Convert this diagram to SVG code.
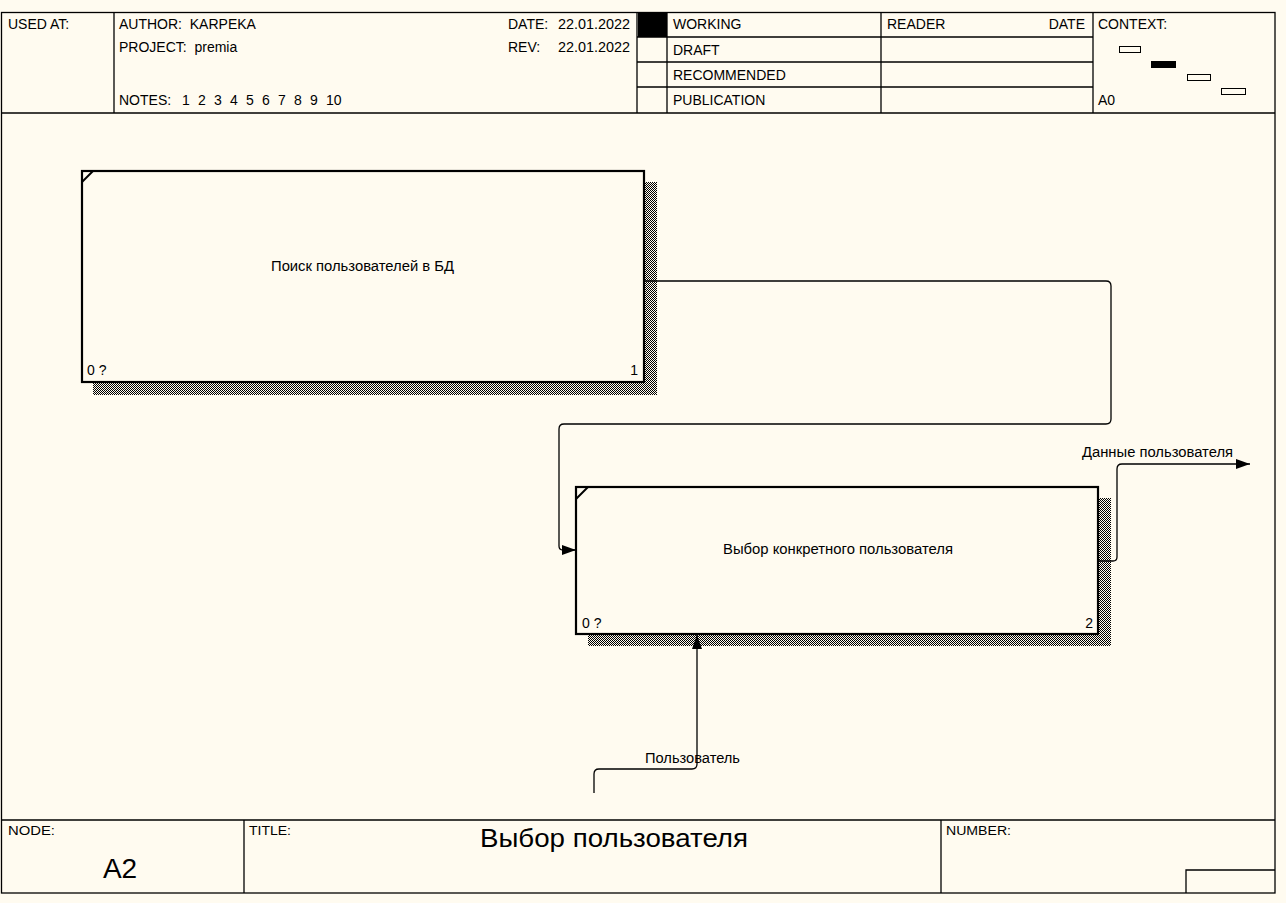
<svg xmlns="http://www.w3.org/2000/svg" width="1286" height="903" viewBox="0 0 1286 903">
<style>
text{font-family:"Liberation Sans",Arial,sans-serif;fill:#000}
.h{font-size:14px;white-space:pre}
.s{font-size:14px}
.f{font-size:12px}
.frame{fill:none;stroke:#000;stroke-width:1.3}
.box{fill:#FFFBF0;stroke:#000;stroke-width:2.2}
.corner{stroke:#000;stroke-width:2}
.shadow{fill:url(#dots)}
.conn{fill:none;stroke:#000;stroke-width:1.3}
</style>
<defs>
<pattern id="dots" patternUnits="userSpaceOnUse" width="2" height="2">
<rect x="0" y="0" width="1" height="1" fill="#000"/>
<rect x="1" y="1" width="1" height="1" fill="#000"/>
</pattern>
<marker id="arr" markerWidth="14" markerHeight="10" refX="14" refY="5" orient="auto" markerUnits="userSpaceOnUse">
<path d="M0,0 L14,5 L0,10 Z" fill="#000"/>
</marker>
</defs>
<rect width="1286" height="903" fill="#FFFBF0"/>
<g id="frame">
<rect class="frame" x="1.5" y="12.5" width="1273.5" height="880.5"/>
<line class="frame" x1="1" y1="113" x2="1275" y2="113"/>
<line class="frame" x1="114" y1="12" x2="114" y2="113"/>
<line class="frame" x1="637" y1="12" x2="637" y2="113"/>
<line class="frame" x1="667" y1="12" x2="667" y2="113"/>
<line class="frame" x1="881" y1="12" x2="881" y2="113"/>
<line class="frame" x1="1093" y1="12" x2="1093" y2="113"/>
<line class="frame" x1="637" y1="37" x2="1093" y2="37"/>
<line class="frame" x1="637" y1="62" x2="1093" y2="62"/>
<line class="frame" x1="637" y1="87" x2="1093" y2="87"/>
<rect x="638" y="12" width="29" height="25" fill="#000"/>
<text class="h" x="8" y="29">USED AT:</text>
<text class="h" x="119" y="29">AUTHOR:  KARPEKA</text>
<text class="h" x="119" y="52">PROJECT:  premia</text>
<text class="h" x="508" y="29">DATE:</text>
<text class="h" x="558" y="29" textLength="72" lengthAdjust="spacingAndGlyphs">22.01.2022</text>
<text class="h" x="508" y="52">REV:</text>
<text class="h" x="558" y="52" textLength="72" lengthAdjust="spacingAndGlyphs">22.01.2022</text>
<text class="h" x="119" y="105">NOTES:<tspan x="182">1</tspan><tspan x="198">2</tspan><tspan x="214">3</tspan><tspan x="230">4</tspan><tspan x="246">5</tspan><tspan x="262">6</tspan><tspan x="278">7</tspan><tspan x="294">8</tspan><tspan x="310">9</tspan><tspan x="326">10</tspan></text>
<text class="h" x="673" y="29">WORKING</text>
<text class="h" x="673" y="55">DRAFT</text>
<text class="h" x="673" y="80">RECOMMENDED</text>
<text class="h" x="673" y="105">PUBLICATION</text>
<text class="h" x="887" y="29">READER</text>
<text class="h" x="1085" y="29" text-anchor="end">DATE</text>
<text class="h" x="1098" y="29">CONTEXT:</text>
<text class="h" x="1098" y="105">A0</text>
<rect x="1119.5" y="46.5" width="21" height="6" fill="none" stroke="#000" stroke-width="1"/>
<rect x="1151" y="61" width="25" height="7" fill="#000"/>
<rect x="1187.5" y="74.5" width="23" height="6" fill="none" stroke="#000" stroke-width="1"/>
<rect x="1221.5" y="88.5" width="24" height="6" fill="none" stroke="#000" stroke-width="1"/>
<line class="frame" x1="1" y1="820" x2="1275" y2="820"/>
<line class="frame" x1="244" y1="820" x2="244" y2="893"/>
<line class="frame" x1="941" y1="820" x2="941" y2="893"/>
<polyline class="frame" points="1186,893 1186,870 1275,870"/>
<text class="f" x="8" y="835" textLength="47" lengthAdjust="spacingAndGlyphs">NODE:</text>
<text class="f" x="249" y="835" textLength="42" lengthAdjust="spacingAndGlyphs">TITLE:</text>
<text class="f" x="946" y="835" textLength="65" lengthAdjust="spacingAndGlyphs">NUMBER:</text>
<text x="614" y="847" font-size="25" text-anchor="middle" textLength="268" lengthAdjust="spacingAndGlyphs">Выбор пользователя</text>
<text x="120" y="878" font-size="28" text-anchor="middle">A2</text>
</g>
<g id="node1">
<rect class="shadow" x="645" y="182" width="12" height="213"/>
<rect class="shadow" x="93" y="383" width="564" height="12"/>
<rect class="box" x="82" y="171" width="562" height="211"/>
<line class="corner" x1="82" y1="182" x2="93" y2="171"/>
<text class="s" x="271" y="271" textLength="183" lengthAdjust="spacingAndGlyphs">Поиск пользователей в БД</text>
<text class="s" x="87" y="375">0 ?</text>
<text class="s" x="638" y="375" text-anchor="end">1</text>
</g>
<g id="node2">
<rect class="shadow" x="1099" y="498" width="12" height="148"/>
<rect class="shadow" x="588" y="635" width="523" height="11"/>
<rect class="box" x="576" y="487" width="522" height="147"/>
<line class="corner" x1="576" y1="499" x2="588" y2="487"/>
<text class="s" x="723" y="554" textLength="230" lengthAdjust="spacingAndGlyphs">Выбор конкретного пользователя</text>
<text class="s" x="582" y="628">0 ?</text>
<text class="s" x="1093" y="628" text-anchor="end">2</text>
</g>
<g id="connectors">
<path class="conn" d="M645,281 H1106 Q1111,281 1111,286 V419 Q1111,424 1106,424 H564 Q559,424 559,429 V546 Q559,550 563,550 H576" marker-end="url(#arr)"/>
<path class="conn" d="M1099,561 H1113 Q1117,561 1117,557 V469 Q1117,464 1122,464 H1250" marker-end="url(#arr)"/>
<path class="conn" d="M594,793 V774 Q594,769 599,769 H692 Q697,769 697,764 V635" marker-end="url(#arr)"/>
<text class="s" x="1082" y="457" textLength="151" lengthAdjust="spacingAndGlyphs">Данные пользователя</text>
<text class="s" x="645" y="763" textLength="95" lengthAdjust="spacingAndGlyphs">Пользователь</text>
</g>
</svg>
